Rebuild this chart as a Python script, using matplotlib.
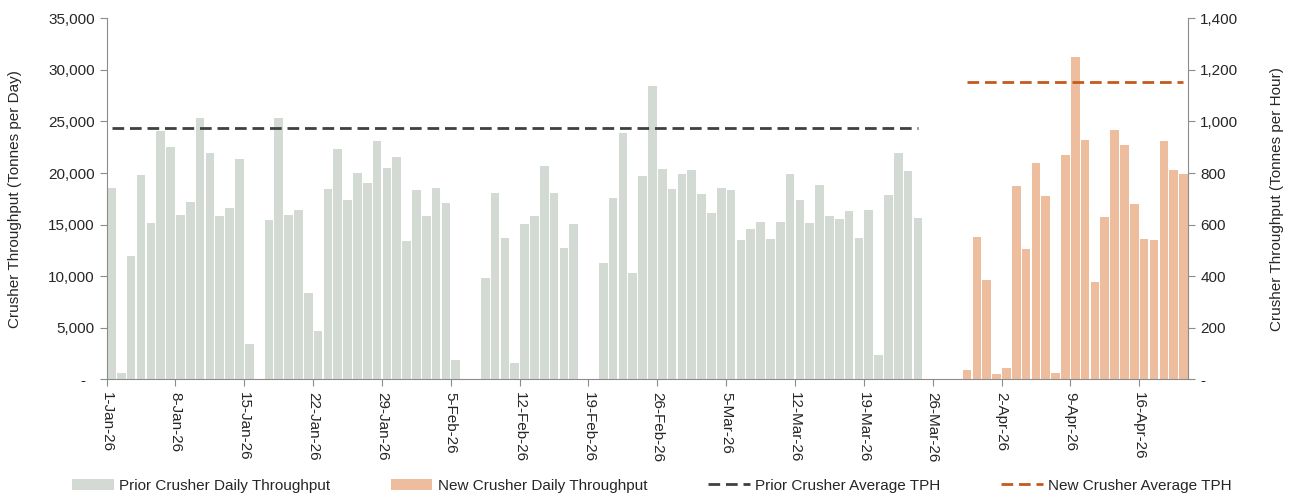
import numpy as np
import pandas as pd
import matplotlib
matplotlib.use("Agg")
import matplotlib.pyplot as plt
from matplotlib.ticker import FuncFormatter, MultipleLocator

plt.rcParams['font.family'] = ['Liberation Sans', 'DejaVu Sans']

# daily tonnes, prior crusher: 1-Jan-26 .. 28-Mar-26
prior_daily = [18500, 640, 11950, 19800, 15180, 24060, 22510, 15950, 17180, 25290,
               21960, 15820, 16600, 21350, 3420, 0, 15440, 25290, 15890, 16430,
               8360, 4710, 18410, 22290, 17370, 19960, 19050, 23090, 20470, 21510,
               13400,
               18340, 15820, 18540, 17050, 1870, 0, 0, 9790, 18050, 13690,
               1610, 15080, 15820, 20700, 18050, 12750, 15050, 0, 0, 11270,
               17600, 23870, 10300, 19700, 28420, 20350, 18440, 19890,
               20250, 17960, 16140, 18570, 18340, 13530, 14530, 15210, 13600, 15240,
               19860, 17370, 15150, 18800, 15820, 15500, 16310, 13720, 16380, 2320,
               17890, 21930, 20180, 15660, 0, 0, 0, 0]
# daily tonnes, new crusher: 29-Mar-26 .. 20-Apr-26
new_daily = [900, 13790, 9590, 510, 1130, 18760, 12660, 20930, 17760, 580,
             21700, 31230, 23190, 9460, 15760, 24160, 22700, 17020, 13600, 13500,
             23090, 20310, 19920]

prior_avg_tph = 975
new_avg_tph = 1154
prior_avg_end = "2026-03-24"

dates = pd.date_range("2026-01-01", periods=len(prior_daily) + len(new_daily), freq="D")
x = np.arange(len(dates))
x_prior = x[:len(prior_daily)]
x_new = x[len(prior_daily):]
n_prior_line = int((pd.Timestamp(prior_avg_end) - dates[0]).days) + 1

gray = '#D3DAD4'
orange = '#EDBD9D'
txt = '#262626'
axcol = '#8C8C8C'

fig = plt.figure(figsize=(12.91, 4.93), dpi=100)
ax = fig.add_axes([0.0826, 0.2306, 0.8379, 0.7323])
ax2 = ax.twinx()

ax.bar(x_prior, prior_daily, width=0.87, color=gray, label='Prior Crusher Daily Throughput')
ax.bar(x_new, new_daily, width=0.87, color=orange, label='New Crusher Daily Throughput')

ax2.plot(x[:n_prior_line], [prior_avg_tph] * n_prior_line, color='#404040', lw=2,
         dashes=(4.2, 2.1), label='Prior Crusher Average TPH')
ax2.plot(x_new, [new_avg_tph] * len(x_new), color='#C55A1E', lw=2,
         dashes=(4.2, 2.1), label='New Crusher Average TPH')

ax.set_xlim(-0.5, len(x) - 0.5)
ax.set_ylim(0, 35000)
ax2.set_ylim(0, 1400)
ax.yaxis.set_major_locator(MultipleLocator(5000))
ax2.yaxis.set_major_locator(MultipleLocator(200))

def fmt(v, pos):
    return '-  ' if v == 0 else f'{v:,.0f}'

def fmt2(v, pos):
    return '-' if v == 0 else f'{v:,.0f}'

ax.yaxis.set_major_formatter(FuncFormatter(fmt))
ax2.yaxis.set_major_formatter(FuncFormatter(fmt2))

tick_idx = x[::7]
ax.set_xticks(tick_idx - 0.5)
ax.set_xticklabels([f"{d.day}-{d.strftime('%b-%y')}" for d in dates[::7]],
                   rotation=270, ha='center', va='top')

for a in (ax, ax2):
    a.spines['top'].set_visible(False)
    for s in a.spines.values():
        s.set_color(axcol)
    a.tick_params(colors=axcol, labelcolor=txt, labelsize=11, length=5)
ax2.spines['left'].set_visible(False)
ax2.spines['bottom'].set_visible(False)
ax.spines['right'].set_visible(False)
ax.tick_params(axis='x', pad=4)

ax.set_ylabel('Crusher Throughput (Tonnes per Day)', fontsize=11, color=txt, labelpad=19)
ax2.set_ylabel('Crusher Throughput (Tonnes per Hour)', fontsize=11, color=txt, labelpad=23)

h1, l1 = ax.get_legend_handles_labels()
h2, l2 = ax2.get_legend_handles_labels()
fig.legend(h1 + h2, l1 + l2, loc='lower center', bbox_to_anchor=(0.505, -0.027), ncol=4,
           frameon=False, fontsize=11, handlelength=2.7, handletextpad=0.35,
           columnspacing=4.0, labelcolor=txt)

fig.savefig('out.png', dpi=100)
